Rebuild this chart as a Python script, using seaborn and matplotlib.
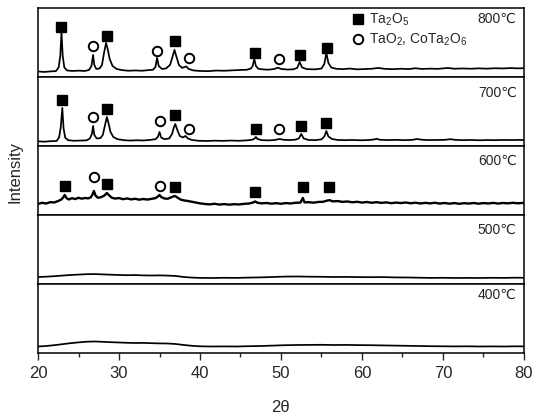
import matplotlib

matplotlib.use("Agg")
import matplotlib.pyplot as plt
import seaborn as sns
from matplotlib.lines import Line2D
from matplotlib.ticker import MultipleLocator

# XRD patterns (2theta in degrees, intensity in a.u.)
theta_800 = [20.0, 20.8, 21.6, 22.2, 22.55, 22.75, 22.9, 23.05, 23.25, 23.6, 24.2, 25.0,
             25.8, 26.3, 26.6, 26.8, 26.95, 27.2, 27.6, 27.9, 28.15, 28.4, 28.6, 28.85,
             29.2, 29.7, 30.4, 31.2, 32.0, 32.8, 33.6, 34.2, 34.5, 34.7, 34.9, 35.3,
             35.8, 36.3, 36.6, 36.85, 37.1, 37.4, 37.8, 38.1, 38.3, 38.6, 39.2, 40.0,
             41.0, 42.0, 43.0, 44.0, 45.0, 45.8, 46.3, 46.5, 46.7, 46.9, 47.2, 47.8,
             48.5, 49.2, 49.6, 50.0, 50.8, 51.5, 52.0, 52.3, 52.6, 53.2, 54.2, 55.0,
             55.35, 55.6, 55.85, 56.2, 56.8, 57.6, 58.5, 59.4, 60.3, 61.2, 62.0, 62.8,
             63.8, 64.8, 65.8, 66.6, 67.4, 68.4, 69.4, 70.6, 71.4, 72.4, 73.4, 74.4,
             75.4, 76.4, 77.4, 78.4, 79.2, 80.0]
inten_800 = [5.5, 5.0, 5.6, 5.8, 9.5, 21, 45, 21, 9.5, 6.5, 6.0, 6.3,
             6.0, 7.0, 11, 22, 12, 8, 8.5, 12, 24, 34, 28, 18,
             11, 8, 6.8, 6.2, 6.5, 6.2, 6.8, 7.2, 10, 19, 11, 8,
             8.5, 12, 20, 27, 20, 12, 9, 10, 10.5, 8, 6.5, 6.0,
             5.8, 6.4, 6.2, 6.6, 7.0, 7.2, 8.5, 11, 18, 11, 8.2, 7.5,
             7.3, 8.0, 9.3, 8.0, 7.4, 7.6, 9, 15, 9.5, 7.8, 7.6, 8.4,
             13, 24, 14, 9.5, 8.2, 7.8, 8.4, 7.6, 7.9, 8.2, 9.0, 8.1,
             7.8, 8.2, 7.9, 8.7, 8.0, 8.3, 8.1, 9.0, 8.2, 8.5, 8.2, 8.6,
             8.3, 8.7, 8.5, 8.9, 8.6, 8.8]

theta_700 = [20.0, 20.8, 21.6, 22.3, 22.6, 22.8, 23.0, 23.15, 23.35, 23.7, 24.4, 25.2,
             26.0, 26.4, 26.65, 26.8, 26.95, 27.25, 27.7, 28.0, 28.25, 28.5, 28.7, 28.95,
             29.3, 29.8, 30.6, 31.4, 32.2, 33.0, 33.8, 34.5, 34.8, 35.0, 35.2, 35.6,
             36.2, 36.55, 36.75, 36.95, 37.2, 37.5, 37.9, 38.2, 38.5, 39.0, 39.8, 40.8,
             41.8, 42.8, 43.8, 44.8, 45.8, 46.5, 46.75, 46.9, 47.1, 47.6, 48.4, 49.2,
             49.8, 50.3, 51.0, 51.8, 52.2, 52.5, 52.8, 53.4, 54.2, 55.0, 55.35, 55.6,
             55.85, 56.3, 57.0, 57.9, 58.8, 59.8, 60.8, 61.5, 61.8, 62.2, 63.2, 64.2,
             65.2, 66.2, 66.8, 67.3, 68.2, 69.2, 70.2, 70.9, 71.5, 72.5, 73.5, 74.5,
             75.5, 76.5, 77.5, 78.5, 79.3, 80.0]
inten_700 = [4.6, 4.3, 4.8, 5.0, 8.5, 18, 38, 18, 8.5, 5.8, 5.2, 5.4,
             5.6, 7.5, 12, 20, 11, 7.5, 7.8, 11, 20, 29, 23, 14,
             9, 6.8, 5.8, 5.4, 5.7, 5.5, 6.0, 6.8, 9, 14, 8.5, 6.8,
             7.5, 12, 18, 22, 16, 10, 8.5, 10, 7.5, 6.0, 5.2, 5.0,
             5.3, 5.1, 5.4, 5.2, 5.6, 6.3, 7.5, 9, 7.0, 5.8, 5.6, 5.9,
             7.0, 6.2, 5.9, 6.3, 7.5, 12, 7.5, 6.0, 5.8, 6.6, 9.5, 15,
             9.5, 7.0, 6.0, 5.8, 6.0, 5.7, 5.9, 6.5, 7.2, 6.2, 5.9, 6.1,
             5.8, 6.1, 7.0, 6.3, 5.9, 6.0, 6.1, 6.8, 6.1, 5.8, 6.0, 5.7,
             5.9, 5.8, 6.0, 5.9, 6.1, 5.9]

theta_600 = [20.0, 20.5, 21.0, 21.5, 22.0, 22.5, 22.9, 23.1, 23.3, 23.5, 23.8, 24.2,
             24.6, 25.0, 25.4, 25.8, 26.2, 26.5, 26.7, 26.9, 27.1, 27.4, 27.8, 28.2,
             28.5, 28.8, 29.1, 29.5, 30.0, 30.5, 31.0, 31.5, 32.0, 32.5, 33.0, 33.5,
             34.0, 34.5, 34.8, 35.0, 35.2, 35.6, 36.0, 36.4, 36.7, 36.9, 37.2, 37.6,
             38.0, 38.5, 39.0, 39.5, 40.0, 40.6, 41.2, 41.8, 42.4, 43.0, 43.6, 44.2,
             44.8, 45.4, 46.0, 46.5, 46.8, 47.1, 47.6, 48.2, 48.8, 49.4, 50.0, 50.6,
             51.2, 51.8, 52.4, 52.7, 52.9, 53.4, 54.0, 54.6, 55.2, 55.7, 56.0, 56.4,
             57.0, 57.6, 58.2, 58.8, 59.4, 60.0, 60.6, 61.2, 61.8, 62.4, 63.0, 63.6,
             64.2, 64.8, 65.4, 66.0, 66.6, 67.2, 67.8, 68.4, 69.0, 69.6, 70.2, 70.8,
             71.4, 72.0, 72.6, 73.2, 73.8, 74.4, 75.0, 75.6, 76.2, 76.8, 77.4, 78.0,
             78.6, 79.2, 80.0]
inten_600 = [11.0, 12.2, 11.4, 12.8, 12.5, 14.0, 15.5, 17.5, 20, 17, 15.5, 16.8,
             15.9, 17.2, 16.3, 17.0, 16.6, 17.5, 20, 24, 19.5, 17.2, 17.8, 19.5,
             22, 19.5, 17.3, 16.4, 16.9, 15.8, 16.5, 15.6, 16.2, 15.3, 16.0, 15.4,
             16.1, 16.8, 18.5, 20, 18, 16.5, 16.2, 17.5, 18.5, 19, 17.5, 15.4,
             14.6, 14.0, 13.2, 12.4, 11.6, 11.0, 10.6, 11.2, 10.4, 10.9, 10.3, 10.8,
             10.5, 11.1, 11.4, 12.3, 13.5, 12.2, 11.6, 12.0, 11.3, 11.8, 11.2, 11.9,
             11.5, 12.2, 12.4, 17, 12.6, 12.8, 12.3, 13.0, 13.2, 14.4, 14.8, 13.6,
             13.9, 13.1, 13.5, 12.7, 13.2, 12.4, 13.0, 12.2, 12.8, 12.1, 12.6, 11.8,
             12.4, 11.9, 12.5, 11.7, 12.3, 11.5, 12.1, 11.6, 12.2, 11.4, 12.0, 11.3,
             11.9, 11.2, 11.8, 11.4, 12.0, 11.3, 11.9, 11.5, 12.1, 11.4, 12.0, 11.6,
             12.2, 11.7, 12.1]

theta_500 = [20.0, 21.0, 22.0, 23.0, 24.0, 25.0, 26.0, 27.0, 28.0, 29.0, 30.0, 31.0,
             32.0, 33.0, 34.0, 35.0, 36.0, 37.0, 38.0, 39.0, 40.0, 41.5, 43.0, 44.5,
             46.0, 47.5, 49.0, 50.5, 52.0, 53.5, 55.0, 56.5, 58.0, 59.5, 61.0, 62.5,
             64.0, 65.5, 67.0, 68.5, 70.0, 71.5, 73.0, 74.5, 76.0, 77.5, 79.0, 80.0]
inten_500 = [7.0, 7.3, 7.8, 8.4, 9.0, 9.4, 9.8, 9.9, 9.6, 9.3, 9.0, 8.8,
             8.9, 8.6, 8.5, 8.6, 8.4, 8.0, 7.0, 6.4, 6.1, 6.0, 6.2, 6.1,
             6.4, 6.6, 7.0, 7.4, 7.5, 7.3, 7.2, 7.0, 7.1, 6.9, 6.8, 6.9,
             6.6, 6.5, 6.3, 6.1, 6.2, 6.0, 6.1, 6.0, 6.2, 6.1, 6.3, 6.2]

theta_400 = [20.0, 21.0, 22.0, 23.0, 24.0, 25.0, 26.0, 27.0, 28.0, 29.0, 30.0, 31.0,
             32.0, 33.0, 34.0, 35.0, 36.0, 37.0, 38.0, 39.0, 40.0, 41.5, 43.0, 44.5,
             46.0, 47.5, 49.0, 50.5, 52.0, 53.5, 55.0, 56.5, 58.0, 59.5, 61.0, 62.5,
             64.0, 65.5, 67.0, 68.5, 70.0, 71.5, 73.0, 74.5, 76.0, 77.5, 79.0, 80.0]
inten_400 = [6.5, 7.0, 7.8, 8.8, 9.8, 10.6, 11.3, 11.5, 11.2, 10.8, 10.5, 10.2,
             10.0, 10.1, 9.8, 9.6, 9.5, 9.0, 8.0, 7.2, 6.7, 6.5, 6.6, 6.5,
             6.8, 7.0, 7.4, 7.8, 8.0, 8.1, 8.2, 8.0, 8.1, 7.9, 7.8, 7.6,
             7.4, 7.2, 7.0, 6.8, 6.7, 6.6, 6.7, 6.5, 6.6, 6.5, 6.7, 6.6]

# phase markers: Ta2O5 (filled squares) and TaO2 / CoTa2O6 (open circles)
ta2o5_x_800 = [22.9, 28.5, 36.9, 46.8, 52.3, 55.7]
ta2o5_y_800 = [50, 41, 36, 24, 22, 29]
other_x_800 = [26.8, 34.7, 38.6, 49.7]
other_y_800 = [31, 26, 19, 18]

ta2o5_x_700 = [23.0, 28.5, 36.9, 46.9, 52.5, 55.6]
ta2o5_y_700 = [46, 37, 31, 17, 20, 23]
other_x_700 = [26.8, 35.0, 38.6, 49.8]
other_y_700 = [29, 25, 17, 17]

ta2o5_x_600 = [23.3, 28.5, 36.9, 46.8, 52.7, 55.9]
ta2o5_y_600 = [29, 31, 28, 23, 28, 28]
other_x_600 = [26.9, 35.0]
other_y_600 = [38, 29]

temps = ["800℃", "700℃", "600℃", "500℃", "400℃"]
label_ypos = [0.84, 0.77, 0.78, 0.79, 0.84]

patterns = [
    (theta_800, inten_800, ta2o5_x_800, ta2o5_y_800, other_x_800, other_y_800),
    (theta_700, inten_700, ta2o5_x_700, ta2o5_y_700, other_x_700, other_y_700),
    (theta_600, inten_600, ta2o5_x_600, ta2o5_y_600, other_x_600, other_y_600),
    (theta_500, inten_500, [], [], [], []),
    (theta_400, inten_400, [], [], [], []),
]

sns.set_style("white")
plt.rcParams["font.family"] = ["Liberation Sans", "DejaVu Sans"]
plt.rcParams["mathtext.fontset"] = "custom"
plt.rcParams["mathtext.rm"] = "Liberation Sans"
plt.rcParams["mathtext.it"] = "Liberation Sans:italic"
plt.rcParams["axes.linewidth"] = 1.1

fig, axes = plt.subplots(5, 1, figsize=(5.36, 4.18), dpi=100, sharex=True,
                         gridspec_kw={"hspace": 0})
fig.subplots_adjust(left=0.0709, right=0.9776, top=0.981, bottom=0.1555)

for i, (ax, (tx, iy, sx, sy, cx, cy)) in enumerate(zip(axes, patterns)):
    lw = 1.7 if i == 2 else 1.25
    sns.lineplot(x=tx, y=iy, ax=ax, color="black", linewidth=lw,
                 estimator=None, sort=False)
    if sx:
        ax.plot(sx, sy, ls="none", marker="s", ms=6.8, color="black")
    if cx:
        ax.plot(cx, cy, ls="none", marker="o", ms=6.8, mfc="white",
                mec="black", mew=1.4)
    ax.set_xlim(20, 80)
    ax.set_ylim(0, 69)
    ax.set_yticks([])
    ax.set_ylabel("")
    for sp in ax.spines.values():
        sp.set_color("black")
        sp.set_visible(True)
    ax.text(0.985, label_ypos[i], temps[i], transform=ax.transAxes,
            ha="right", va="center", fontsize=10)
    ax.tick_params(axis="x", which="both", bottom=False, labelbottom=False)

bottom_ax = axes[-1]
bottom_ax.xaxis.set_major_locator(MultipleLocator(10))
bottom_ax.xaxis.set_minor_locator(MultipleLocator(5))
bottom_ax.tick_params(axis="x", which="major", bottom=True, labelbottom=True,
                      direction="out", length=5, width=1.0, pad=4, labelsize=12)
bottom_ax.tick_params(axis="x", which="minor", bottom=True, direction="out",
                      length=3, width=1.0)

handles = [
    Line2D([], [], ls="none", marker="s", ms=6.8, color="black"),
    Line2D([], [], ls="none", marker="o", ms=6.8, mfc="white", mec="black", mew=1.4),
]
axes[0].legend(handles, [r"Ta$_2$O$_5$", r"TaO$_2$, CoTa$_2$O$_6$"],
               loc="upper left", bbox_to_anchor=(0.644, 0.95), frameon=False,
               fontsize=10, handlelength=1.0, handletextpad=0.3, borderpad=0,
               borderaxespad=0, labelspacing=0.3, numpoints=1)

fig.text(0.524, 0.026, "2θ", ha="center", va="center", fontsize=12)
fig.text(0.028, 0.589, "Intensity", ha="center", va="center", rotation=90,
         fontsize=12)

fig.savefig("out.png", dpi=100)
